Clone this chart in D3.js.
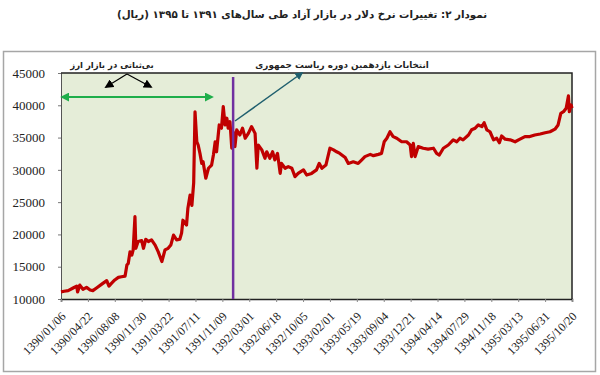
<!DOCTYPE html>
<html>
<head>
<meta charset="utf-8">
<script src="https://cdn.jsdelivr.net/npm/d3@7"></script>
<style>
  body { margin: 0; background: #fff; }
  svg { display: block; }
</style>
</head>
<body>
<script>
/* DATA */
// trading-day index (x) and free-market dollar rate in rials (y)
var days = [0,7,16,27,35,37,42,49,57,65,71,80,91,102,107,113,120,128,135,143,147,150,154,158,161,165,167,172,180,184,189,195,202,210,217,225,232,239,245,251,258,265,269,272,280,283,288,292,296,299,303,306,310,314,317,323,329,336,340,344,347,353,358,362,366,370,373,377,381,384,388,392,399,405,411,418,425,433,437,440,448,455,459,466,472,477,483,489,492,500,507,515,522,529,541,548,559,570,576,582,591,600,608,615,622,634,641,652,663,671,678,690,697,708,715,721,727,734,741,749,760,771,779,782,786,790,797,808,819,831,838,844,853,864,875,883,890,897,909,916,924,931,939,944,950,957,965,972,978,983,991,1002,1013,1024,1035,1046,1057,1069,1080,1091,1102,1109,1115,1121,1127,1132,1134,1138,1140];
var rates = [11100,11200,11300,11700,12000,11100,12150,11500,11800,11400,11300,11750,12300,12850,12000,12450,12950,13350,13450,13550,15250,15500,17300,16800,17600,22750,17850,18900,19050,17850,19250,18900,19150,18350,17300,15800,17600,17850,18350,19900,19150,19250,20200,22200,21450,24000,26100,24500,28000,39000,34350,33850,32550,31000,31250,28700,30250,30750,32300,34350,32800,36950,36450,39800,36950,38000,36450,37450,33350,35900,33600,36200,35400,36450,34900,35650,36700,35650,30250,33850,33100,31800,32800,31800,32800,31550,32550,29450,31000,30250,30500,30250,28950,29450,30000,29200,29450,30000,31000,30250,30750,33350,33100,32800,32550,31900,31000,31250,31000,31550,32050,32400,32200,32400,32550,34350,34900,35900,35150,34900,34350,34350,33850,32050,34100,32050,33600,33350,33200,33350,32550,32300,33350,33850,34650,34350,34900,34650,35400,36200,36450,36950,36700,37300,36200,35900,34650,34900,34200,35250,34750,34650,34350,34750,35150,35150,35400,35550,35750,35900,36300,36950,38750,39000,39550,41450,39000,40050,39550];
var tickLabels = ['1390/01/06','1390/04/22','1390/08/08','1390/11/30','1391/03/22','1391/07/11','1391/11/09','1392/03/01','1392/06/18','1392/10/05','1393/02/01','1393/05/19','1393/09/04','1393/12/21','1394/04/14','1394/07/29','1394/11/18','1395/03/13','1395/06/31','1395/10/20'];
var yTicks = [10000,15000,20000,25000,30000,35000,40000,45000];
var tickStep = 60;          // trading days between labels
var electionDay = 384;      // 1392 presidential election
var unrestStart = 0, unrestEnd = 337;

var title = 'نمودار ۲: تغییرات نرخ دلار در بازار آزاد طی سال‌های ۱۳۹۱ تا ۱۳۹۵ (ریال)';
var noteUnrest = 'بی‌ثباتی در بازار ارز';
var noteElection = 'انتخابات یازدهمین دوره ریاست جمهوری';

/* LAYOUT */
var W = 600, H = 375;
var plot = { left: 61, right: 572, top: 73, bottom: 299 };
var c = {
  bg:     '#e5edd8',
  line:   '#c00000',
  vline:  '#7030a0',
  green:  '#1fae4a',
  teal:   '#1f5f6e',
  frame:  '#a6a6a6',
  text:   '#222'
};
var serif = '"Liberation Serif", "DejaVu Serif", serif';
var farsi = '"DejaVu Sans", sans-serif';

var svg = d3.select('body').append('svg')
  .attr('width', W).attr('height', H);

var defs = svg.append('defs');
function marker(id, color, size) {
  defs.append('marker')
    .attr('id', id)
    .attr('viewBox', '0 0 10 10')
    .attr('refX', 8).attr('refY', 5)
    .attr('markerWidth', size).attr('markerHeight', size)
    .attr('markerUnits', 'userSpaceOnUse')
    .attr('orient', 'auto-start-reverse')
    .append('path')
    .attr('d', 'M0,0 L10,5 L0,10 Z')
    .attr('fill', color);
}
marker('arrGreen', c.green, 9);
marker('arrBlack', '#000', 9);
marker('arrTeal', c.teal, 8);

/* TITLE */
svg.append('text')
  .attr('x', 302).attr('y', 18)
  .attr('text-anchor', 'middle')
  .attr('direction', 'rtl')
  .attr('font-family', farsi)
  .attr('font-weight', 'bold')
  .attr('font-size', 10.3)
  .attr('fill', c.text)
  .text(title);

/* OUTER FRAME */
svg.append('rect')
  .attr('x', 3.5).attr('y', 51.5)
  .attr('width', 592).attr('height', 320)
  .attr('fill', 'none')
  .attr('stroke', c.frame)
  .attr('stroke-width', 1.5);

/* SCALES */
var x = d3.scaleLinear().domain([0, tickStep * (tickLabels.length - 1)]).range([plot.left, plot.right]);
var y = d3.scaleLinear().domain([10000, 45000]).range([plot.bottom, plot.top]);

/* PLOT AREA */
svg.append('rect')
  .attr('x', plot.left).attr('y', plot.top)
  .attr('width', plot.right - plot.left).attr('height', plot.bottom - plot.top)
  .attr('fill', c.bg);

/* Y AXIS */
var yAxis = svg.append('g')
  .attr('transform', 'translate(' + plot.left + ',0)')
  .call(d3.axisLeft(y).tickValues(yTicks).tickSize(3).tickPadding(13).tickFormat(d3.format('d')));
yAxis.select('.domain').attr('stroke', '#555');
yAxis.selectAll('line').attr('stroke', '#777');
yAxis.selectAll('text')
  .attr('font-family', serif).attr('font-size', 13).attr('fill', c.text);

/* X AXIS */
var xTickVals = tickLabels.map(function(d, i){ return i * tickStep; });
var xAxis = svg.append('g')
  .attr('transform', 'translate(0,' + plot.bottom + ')')
  .call(d3.axisBottom(x).tickValues(xTickVals).tickSize(3)
    .tickFormat(function(d, i){ return tickLabels[i]; }));
xAxis.select('.domain').attr('stroke', '#222').attr('stroke-width', 1.5);
xAxis.selectAll('line').attr('stroke', '#888');
xAxis.selectAll('text')
  .attr('font-family', serif).attr('font-size', 12).attr('fill', c.text)
  .attr('text-anchor', 'end')
  .attr('transform', 'translate(2,15) rotate(-45)')
  .attr('dy', '0.35em')
  .attr('y', 0).attr('x', 0);

/* PLOT BORDER (top/right) */
svg.append('path')
  .attr('d', 'M' + plot.left + ',' + plot.top + 'H' + plot.right + 'V' + plot.bottom)
  .attr('fill', 'none').attr('stroke', '#222').attr('stroke-width', 1.5);

/* SERIES */
var series = days.map(function(d, i){ return { day: d, rate: rates[i] }; });
svg.append('path')
  .datum(series)
  .attr('fill', 'none')
  .attr('stroke', c.line)
  .attr('stroke-width', 3.2)
  .attr('stroke-linejoin', 'round')
  .attr('d', d3.line().x(function(d){ return x(d.day); }).y(function(d){ return y(d.rate); }));

/* ELECTION LINE */
svg.append('line')
  .attr('x1', x(electionDay)).attr('x2', x(electionDay))
  .attr('y1', 77).attr('y2', plot.bottom)
  .attr('stroke', c.vline).attr('stroke-width', 2.5);

/* ANNOTATIONS */
svg.append('line')
  .attr('x1', x(unrestStart) + 1).attr('x2', x(unrestEnd))
  .attr('y1', 97).attr('y2', 97)
  .attr('stroke', c.green).attr('stroke-width', 2)
  .attr('marker-start', 'url(#arrGreen)')
  .attr('marker-end', 'url(#arrGreen)');

svg.append('text')
  .attr('x', 112).attr('y', 68)
  .attr('text-anchor', 'middle').attr('direction', 'rtl')
  .attr('font-family', farsi).attr('font-weight', 'bold').attr('font-size', 8.5)
  .attr('fill', c.text)
  .text(noteUnrest);

[[106, 87], [151, 87]].forEach(function(p){
  svg.append('line')
    .attr('x1', 127).attr('y1', 74).attr('x2', p[0]).attr('y2', p[1])
    .attr('stroke', '#000').attr('stroke-width', 1.2)
    .attr('marker-end', 'url(#arrBlack)');
});

svg.append('line')
  .attr('x1', 235).attr('y1', 121).attr('x2', 302).attr('y2', 73)
  .attr('stroke', c.teal).attr('stroke-width', 1.5)
  .attr('marker-end', 'url(#arrTeal)');

svg.append('text')
  .attr('x', 342).attr('y', 68)
  .attr('text-anchor', 'middle').attr('direction', 'rtl')
  .attr('font-family', farsi).attr('font-weight', 'bold').attr('font-size', 8.8)
  .attr('fill', c.text)
  .text(noteElection);
</script>
</body>
</html>
